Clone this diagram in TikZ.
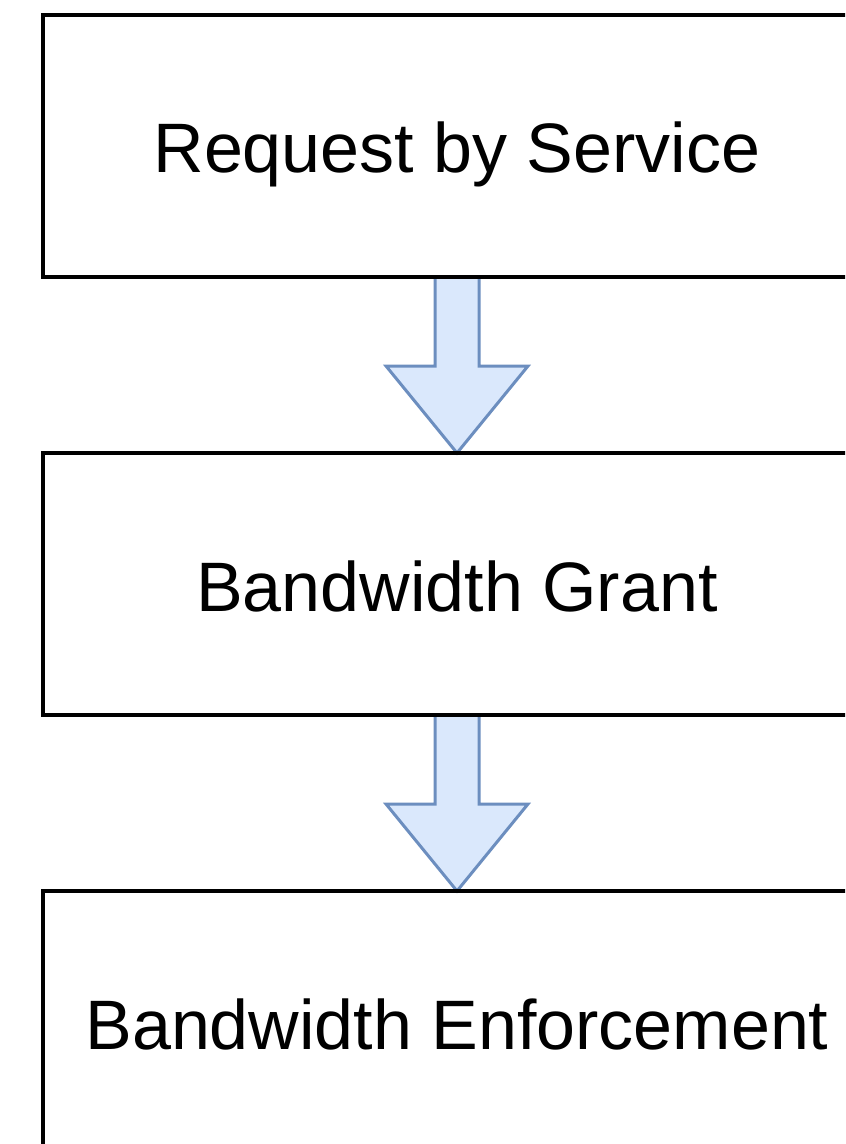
\documentclass[tikz,border=0pt]{standalone}
\usepackage{fontspec}
\setmainfont{Liberation Sans}
\usepackage{xcolor}
\definecolor{cLine}{HTML}{000000}
\definecolor{cArrowFill}{HTML}{DAE8FC}
\definecolor{cArrowLine}{HTML}{6C8EBF}
\usepackage{tikz}
\usetikzlibrary{positioning,calc,backgrounds}
\tikzset{
  node-box/.style={draw=cLine,line width=2pt,outer sep=0pt,
    minimum height=131pt,minimum width=414pt,align=center,
    text height=27pt,text depth=0pt,
    font=\fontsize{35}{42}\selectfont},
  flow-arrow/.style={draw=cArrowLine,line width=1.5pt,fill=cArrowFill,
    line join=miter},
}

\begin{document}
\begin{tikzpicture}[x=0.5pt,y=-0.5pt]
  \useasboundingbox (0,0) rectangle (845,1144);
  \clip (0,0) rectangle (845,1144);
  \node[node-box] (req) at (457,146) {Request by Service};
  \node[node-box,below=88pt of req] (grant) {Bandwidth Grant};
  \node[node-box,below=88pt of grant] (enforce) {Bandwidth Enforcement};
  % block arrows between the steps
  \begin{scope}[on background layer]
    \draw[flow-arrow] ($(req.south)+(-22,0)$) -- ++(0,89) -- ++(-49,0)
      -- (grant.north) -- ++(71,-87) -- ++(-49,0) -- ++(0,-89) -- cycle;
    \draw[flow-arrow] ($(grant.south)+(-22,0)$) -- ++(0,89) -- ++(-49,0)
      -- (enforce.north) -- ++(71,-87) -- ++(-49,0) -- ++(0,-89) -- cycle;
  \end{scope}
\end{tikzpicture}
\end{document}
